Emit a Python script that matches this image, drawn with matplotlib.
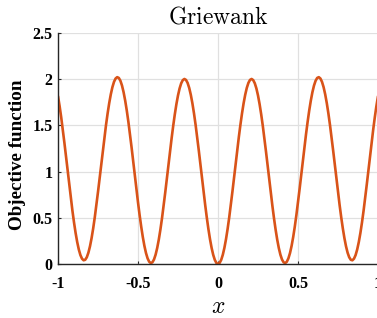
"""
Griewank objective in 1D, redrawn in MATLAB style.
"""

import matplotlib

matplotlib.use("Agg")
import matplotlib.pyplot as plt
import numpy as np
from matplotlib.font_manager import FontProperties

plt.rcParams["mathtext.fontset"] = "cm"
plt.rcParams["axes.unicode_minus"] = False

# Sampled curve, x from -1 to 1 in steps of 0.01.
x_vals = np.linspace(-1.0, 1.0, 201)
y_vals = [
    1.8159, 1.7091, 1.5876, 1.4541, 1.3117, 1.1634, 1.0125, 0.8626, 0.7168, 0.5785,
    0.4506, 0.3362, 0.2377, 0.1573, 0.0967, 0.0575, 0.0403, 0.0455, 0.0731, 0.1223,
    0.1921, 0.2809, 0.3866, 0.5069, 0.6390, 0.7800, 0.9266, 1.0755, 1.2235, 1.3671,
    1.5031, 1.6284, 1.7403, 1.8361, 1.9137, 1.9713, 2.0077, 2.0220, 2.0138, 1.9834,
    1.9314, 1.8589, 1.7676, 1.6594, 1.5369, 1.4028, 1.2599, 1.1117, 0.9613, 0.8121,
    0.6674, 0.5306, 0.4046, 0.2923, 0.1962, 0.1184, 0.0607, 0.0243, 0.0101, 0.0183,
    0.0488, 0.1009, 0.1734, 0.2647, 0.3726, 0.4948, 0.6285, 0.7707, 0.9183, 1.0678,
    1.2159, 1.3592, 1.4947, 1.6191, 1.7297, 1.8241, 1.9000, 1.9558, 1.9902, 2.0024,
    1.9922, 1.9598, 1.9059, 1.8317, 1.7388, 1.6294, 1.5059, 1.3711, 1.2280, 1.0798,
    0.9298, 0.7814, 0.6380, 0.5027, 0.3786, 0.2685, 0.1748, 0.0996, 0.0447, 0.0112,
    0.0000,
    0.0112, 0.0447, 0.0996, 0.1748, 0.2685, 0.3786, 0.5027, 0.6380, 0.7814, 0.9298,
    1.0798, 1.2280, 1.3711, 1.5059, 1.6294, 1.7388, 1.8317, 1.9059, 1.9598, 1.9922,
    2.0024, 1.9902, 1.9558, 1.9000, 1.8241, 1.7297, 1.6191, 1.4947, 1.3592, 1.2159,
    1.0678, 0.9183, 0.7707, 0.6285, 0.4948, 0.3726, 0.2647, 0.1734, 0.1009, 0.0488,
    0.0183, 0.0101, 0.0243, 0.0607, 0.1184, 0.1962, 0.2923, 0.4046, 0.5306, 0.6674,
    0.8121, 0.9613, 1.1117, 1.2599, 1.4028, 1.5369, 1.6594, 1.7676, 1.8589, 1.9314,
    1.9834, 2.0138, 2.0220, 2.0077, 1.9713, 1.9137, 1.8361, 1.7403, 1.6284, 1.5031,
    1.3671, 1.2235, 1.0755, 0.9266, 0.7800, 0.6390, 0.5069, 0.3866, 0.2809, 0.1921,
    0.1223, 0.0731, 0.0455, 0.0403, 0.0575, 0.0967, 0.1573, 0.2377, 0.3362, 0.4506,
    0.5785, 0.7168, 0.8626, 1.0125, 1.1634, 1.3117, 1.4541, 1.5876, 1.7091, 1.8159,
]

x_ticks = [-1, -0.5, 0, 0.5, 1]
x_tick_labels = ["-1", "-0.5", "0", "0.5", "1"]
y_ticks = [0, 0.5, 1, 1.5, 2, 2.5]
y_tick_labels = ["0", "0.5", "1", "1.5", "2", "2.5"]

W, H = 377, 318
fig = plt.figure(figsize=(W / 100, H / 100), dpi=100)
ax = fig.add_axes([58 / W, 54 / H, 320 / W, 231 / H])

ax.plot(x_vals, y_vals, color="#D95319", linewidth=1.9, solid_capstyle="round")

ax.set_xlim(-1, 1)
ax.set_ylim(0, 2.5)
ax.set_xticks(x_ticks)
ax.set_xticklabels(x_tick_labels)
ax.set_yticks(y_ticks)
ax.set_yticklabels(y_tick_labels)

tick_font = FontProperties(family="Liberation Serif", weight="bold", size=11.5)
for lab in ax.get_xticklabels() + ax.get_yticklabels():
    lab.set_fontproperties(tick_font)

ax.grid(True, color="#e0e0e0", linewidth=0.9)
ax.set_axisbelow(True)
for side in ("top", "right"):
    ax.spines[side].set_visible(False)
for side in ("left", "bottom"):
    ax.spines[side].set_color("#262626")
    ax.spines[side].set_linewidth(1.0)
ax.tick_params(direction="in", length=2.5, width=0.8, color="#262626")
ax.tick_params(axis="x", pad=9)
ax.tick_params(axis="y", pad=4)

ax.set_title(r"$\mathrm{Griewank}$", fontsize=17, pad=7)
ax.set_xlabel(r"$x$", fontsize=17, va="center")
ax.xaxis.set_label_coords(0.5, (264 - 306) / 231)
ax.set_ylabel("Objective function", family="Liberation Serif", weight="bold",
              fontsize=13.7, va="center")
ax.yaxis.set_label_coords((17.5 - 58) / 320, (264 - 154.5) / 231)

fig.savefig("out.png", dpi=100)
plt.close(fig)
